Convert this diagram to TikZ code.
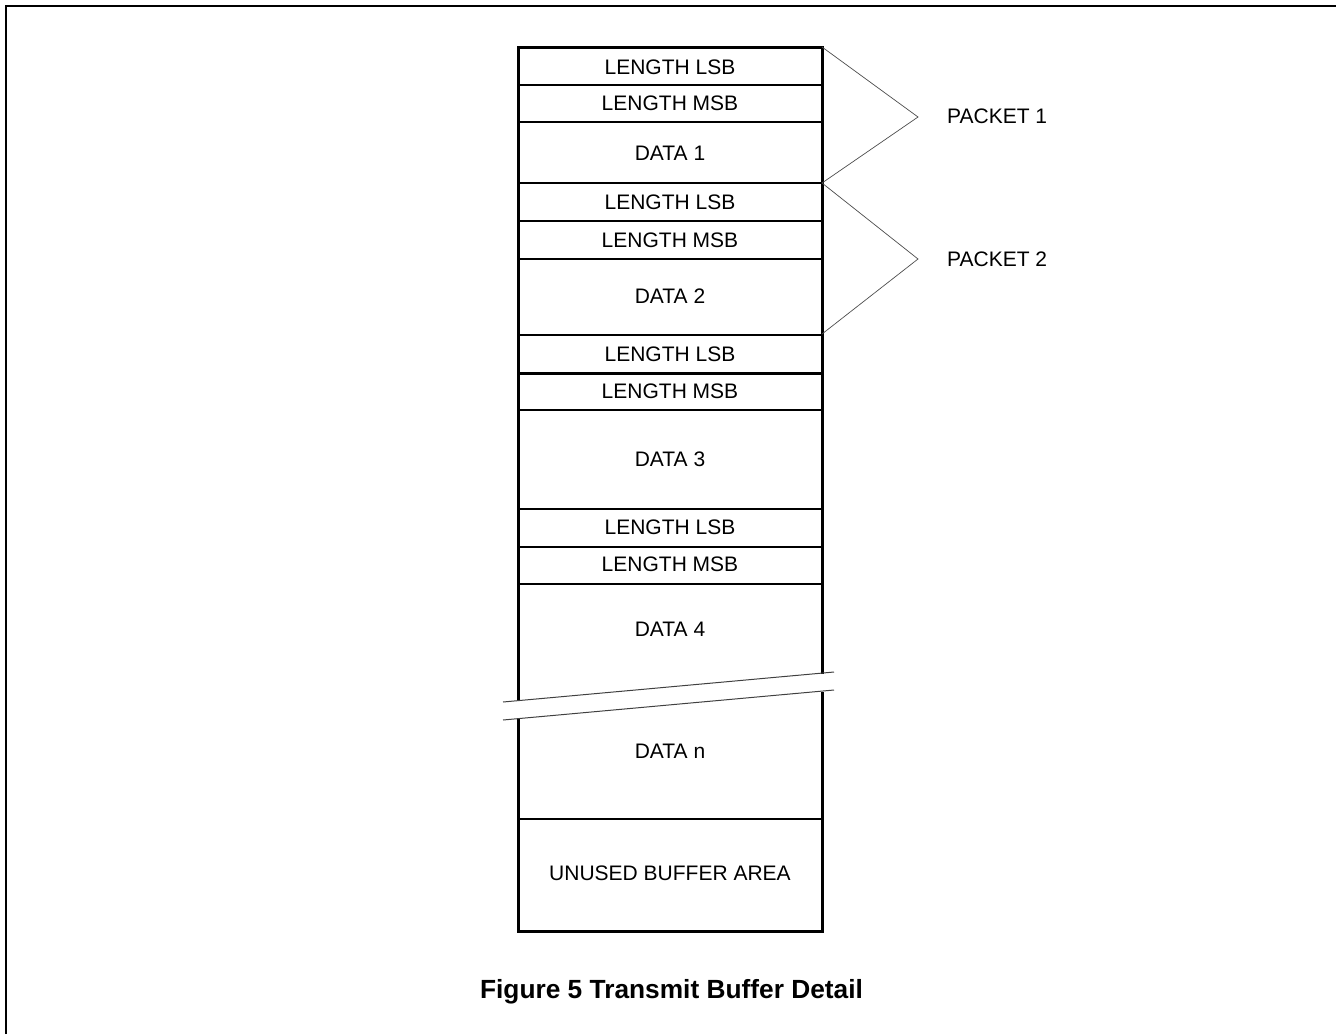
\documentclass[tikz,border=0pt]{standalone}
\usepackage{fontspec}
\setmainfont{Liberation Sans}
\begin{document}
\begin{tikzpicture}[x=1pt,y=-1pt,
  lbl/.style={font=\fontsize{21}{25}\selectfont, inner sep=0pt, anchor=center},
  sepline/.style={line width=1.1pt},
  boxline/.style={line width=3pt},
  brk/.style={line width=0.7pt, draw=black!70},
  breakline/.style={line width=1pt, draw=black!75},
  captext/.style={font=\fontsize{26.3}{30}\selectfont\bfseries, inner sep=0pt}]
\useasboundingbox (0,0) rectangle (1336,1034);
% frame
\draw[line width=2pt] (6,1034) -- (6,6) -- (1336,6);
% inner separators
\foreach \yy in {85,122,183,221,259,335,410,509,547,584,819}
  \draw[sepline] (518,\yy) -- (822,\yy);
\draw[boxline] (518,373) -- (822,373);
% outer box with break
\draw[boxline] (518,701) -- (518,47) -- (822,47) -- (822,674);
\draw[boxline] (518,719) -- (518,931) -- (822,931) -- (822,692);
% break lines
\draw[breakline] (503,702) -- (834,672);
\draw[breakline] (503,720) -- (834,690);
% labels
\node[lbl] (l1) at (670,67) {LENGTH LSB};
\node[lbl] (m1) at (670,103) {LENGTH MSB};
\node[lbl] (d1) at (670,153) {DATA 1};
\node[lbl] (l2) at (670,202) {LENGTH LSB};
\node[lbl] (m2) at (670,240) {LENGTH MSB};
\node[lbl] (d2) at (670,296) {DATA 2};
\node[lbl] (l3) at (670,354) {LENGTH LSB};
\node[lbl] (m3) at (670,391) {LENGTH MSB};
\node[lbl] (d3) at (670,459) {DATA 3};
\node[lbl] (l4) at (670,527) {LENGTH LSB};
\node[lbl] (m4) at (670,564) {LENGTH MSB};
\node[lbl] (d4) at (670,629) {DATA 4};
\node[lbl] (dn) at (670,751) {DATA n};
\node[lbl] (un) at (670,873) {UNUSED BUFFER AREA};
% packet brackets
\coordinate (p1a) at (822,47);
\coordinate (p1t) at (918,117);
\coordinate (p1b) at (822,183);
\coordinate (p2t) at (918,259);
\coordinate (p2b) at (822,334);
\draw[brk] (p1a) -- (p1t) -- (p1b) -- (p2t) -- (p2b);
\node[lbl, anchor=west] (pk1) at (947,116) {PACKET 1};
\node[lbl, anchor=west] (pk2) at (947,259) {PACKET 2};
% caption
\node[captext] (caption) at (671.5,992) {Figure 5 Transmit Buffer Detail};
\end{tikzpicture}
\end{document}
